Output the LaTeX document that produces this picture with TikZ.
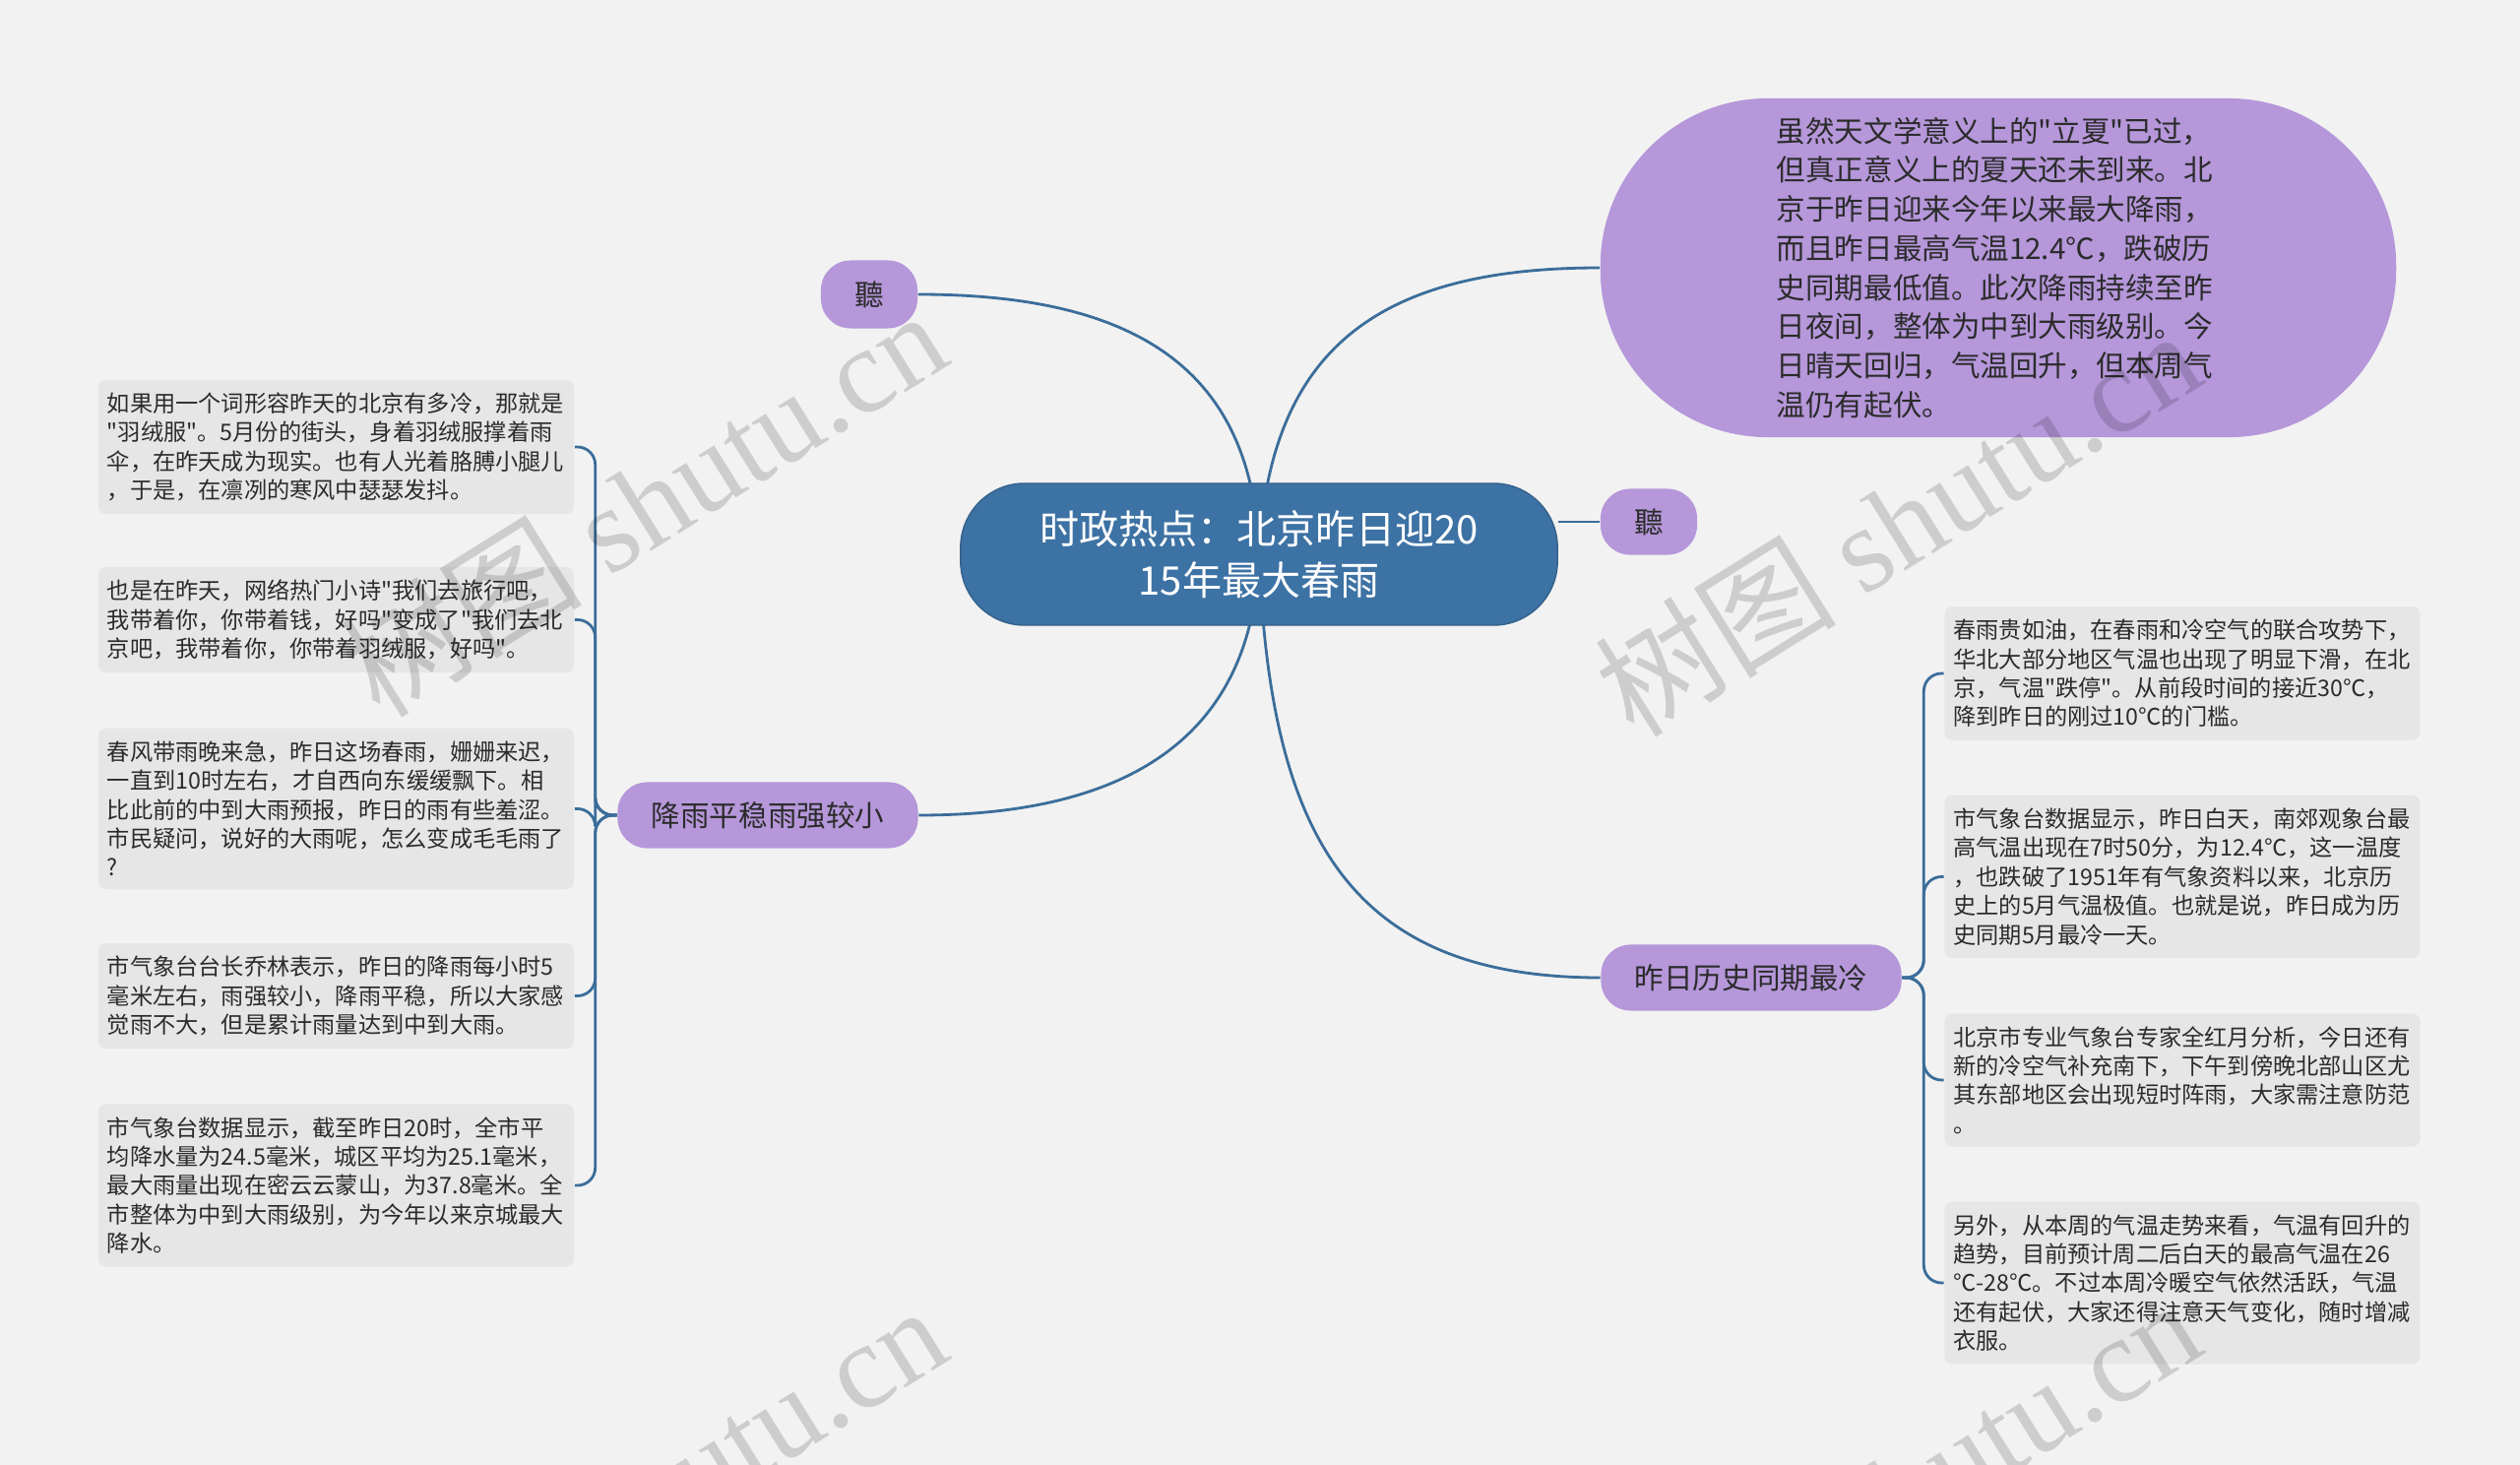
\documentclass[tikz,border=0pt]{standalone}
\usepackage{fontspec}
\setmainfont{Noto Sans CJK SC}
\newfontfamily\cjk{Noto Sans CJK SC}
\newfontfamily\wmserif{Liberation Serif}
\usepackage{tikz}
\usetikzlibrary{calc}
\pgfdeclarelayer{bg}
\pgfsetlayers{bg,main}
\definecolor{pagebg}{HTML}{F2F2F2}
\definecolor{hubblue}{HTML}{3D72A4}
\definecolor{linkblue}{HTML}{3B6D9A}
\definecolor{lilac}{HTML}{B597DA}
\definecolor{leafgray}{HTML}{E6E6E6}
\definecolor{ink}{HTML}{2B2B2B}
\tikzset{
  hub/.style={fill=hubblue,draw=hubblue!85!black,line width=0.4pt,rounded corners=0.65cm,
    minimum width=6.06cm,minimum height=1.44cm,text=white,align=center,
    font=\cjk\fontsize{11.4}{14.9}\selectfont},
  branch/.style={fill=lilac,rounded corners=0.3cm,minimum height=0.67cm,inner sep=0pt,
    text=ink,font=\cjk\fontsize{8.4}{10}\selectfont},
  blob/.style={fill=lilac,rounded corners=1.7cm,minimum width=8.08cm,minimum height=3.44cm,
    text width=4.5cm,align=left,text=ink,font=\cjk\fontsize{8.4}{11.3}\selectfont},
  leaf/.style={fill=leafgray,rounded corners=0.08cm,text width=4.65cm,align=left,
    inner xsep=0.09cm,inner ysep=0.13cm,text=ink,font=\cjk\fontsize{6.6}{8.36}\selectfont},
  link/.style={draw=linkblue,line width=0.8pt},
  fork/.style={link,rounded corners=0.18cm},
  wmark/.style={text=black,text opacity=0.15,rotate=32,font=\cjk\fontsize{35}{40}\selectfont}
}

\begin{document}
\begin{tikzpicture}[x=0.01cm,y=-0.01cm]
\useasboundingbox (0,0) rectangle (2560,1488);
% centre and first level
\node[hub] (hub) at (1279,563) {时政热点：北京昨日迎20\\15年最大春雨};
\node[blob] (summary) at (2030,272) {虽然天文学意义上的"立夏"已过，\\但真正意义上的夏天还未到来。北\\京于昨日迎来今年以来最大降雨，\\而且昨日最高气温12.4℃，跌破历\\史同期最低值。此次降雨持续至昨\\日夜间，整体为中到大雨级别。今\\日晴天回归，气温回升，但本周气\\温仍有起伏。};
\node[branch,minimum width=0.98cm,minimum height=0.69cm] (tingA) at (883,299) {聽};
\node[branch,minimum width=0.98cm] (tingB) at (1675,530) {聽};
\node[branch,minimum width=3.05cm] (rainbr) at (780,828) {降雨平稳雨强较小};
\node[branch,minimum width=3.05cm] (coldbr) at (1779,993) {昨日历史同期最冷};
% left leaves
\node[leaf] (L1) at (341.5,454) {如果用一个词形容昨天的北京有多冷，那就是\\"羽绒服"。5月份的街头，身着羽绒服撑着雨\\伞，在昨天成为现实。也有人光着胳膊小腿儿\\，于是，在凛冽的寒风中瑟瑟发抖。};
\node[leaf] (L2) at (341.5,629.5) {也是在昨天，网络热门小诗"我们去旅行吧，\\我带着你，你带着钱，好吗"变成了"我们去北\\京吧，我带着你，你带着羽绒服，好吗"。};
\node[leaf] (L3) at (341.5,821.5) {春风带雨晚来急，昨日这场春雨，姗姗来迟，\\一直到10时左右，才自西向东缓缓飘下。相\\比此前的中到大雨预报，昨日的雨有些羞涩。\\市民疑问，说好的大雨呢，怎么变成毛毛雨了\\?};
\node[leaf] (L4) at (341.5,1011.5) {市气象台台长乔林表示，昨日的降雨每小时5\\毫米左右，雨强较小，降雨平稳，所以大家感\\觉雨不大，但是累计雨量达到中到大雨。};
\node[leaf] (L5) at (341.5,1204) {市气象台数据显示，截至昨日20时，全市平\\均降水量为24.5毫米，城区平均为25.1毫米，\\最大雨量出现在密云云蒙山，为37.8毫米。全\\市整体为中到大雨级别，为今年以来京城最大\\降水。};
% right leaves
\node[leaf] (R1) at (2217,684) {春雨贵如油，在春雨和冷空气的联合攻势下，\\华北大部分地区气温也出现了明显下滑，在北\\京，气温"跌停"。从前段时间的接近30℃，\\降到昨日的刚过10℃的门槛。};
\node[leaf] (R2) at (2217,890.5) {市气象台数据显示，昨日白天，南郊观象台最\\高气温出现在7时50分，为12.4℃，这一温度\\，也跌破了1951年有气象资料以来，北京历\\史上的5月气温极值。也就是说，昨日成为历\\史同期5月最冷一天。};
\node[leaf] (R3) at (2217,1097) {北京市专业气象台专家全红月分析，今日还有\\新的冷空气补充南下，下午到傍晚北部山区尤\\其东部地区会出现短时阵雨，大家需注意防范\\。};
\node[leaf] (R4) at (2217,1303) {另外，从本周的气温走势来看，气温有回升的\\趋势，目前预计周二后白天的最高气温在26\\℃-28℃。不过本周冷暖空气依然活跃，气温\\还有起伏，大家还得注意天气变化，随时增减\\衣服。};
% connectors
\begin{pgfonlayer}{bg}
\fill[pagebg] (0,0) rectangle (2560,1488);
\draw[link] (hub.center) .. controls (1273,367) and (1143,299) .. (tingA.east);
\draw[link] (hub.center) .. controls (1290,351) and (1404,272) .. (summary.west);
\draw[link] (hub.center) .. controls (1273,751) and (1143,828) .. (rainbr.east);
\draw[link] (hub.center) .. controls (1290,849) and (1371,993) .. (coldbr.west);
\draw[link] (tingB.west) -- (tingB.west -| hub.east);
\foreach \n in {L1,L2,L3,L4,L5}
  \draw[fork] (rainbr.west) -- ++(-22,0) |- (\n.east);
\foreach \n in {R1,R2,R3,R4}
  \draw[fork] (coldbr.east) -- ++(22,0) |- (\n.west);
\end{pgfonlayer}
% watermark
\node[wmark] (wmA) at (653,510) {树图 {\wmserif shutu.cn}};
\node[wmark] (wmB) at (1927,530) {树图 {\wmserif shutu.cn}};
\node[wmark] (wmC) at (653,1521) {树图 {\wmserif shutu.cn}};
\node[wmark] (wmD) at (1927,1515) {树图 {\wmserif shutu.cn}};
\end{tikzpicture}
\end{document}
